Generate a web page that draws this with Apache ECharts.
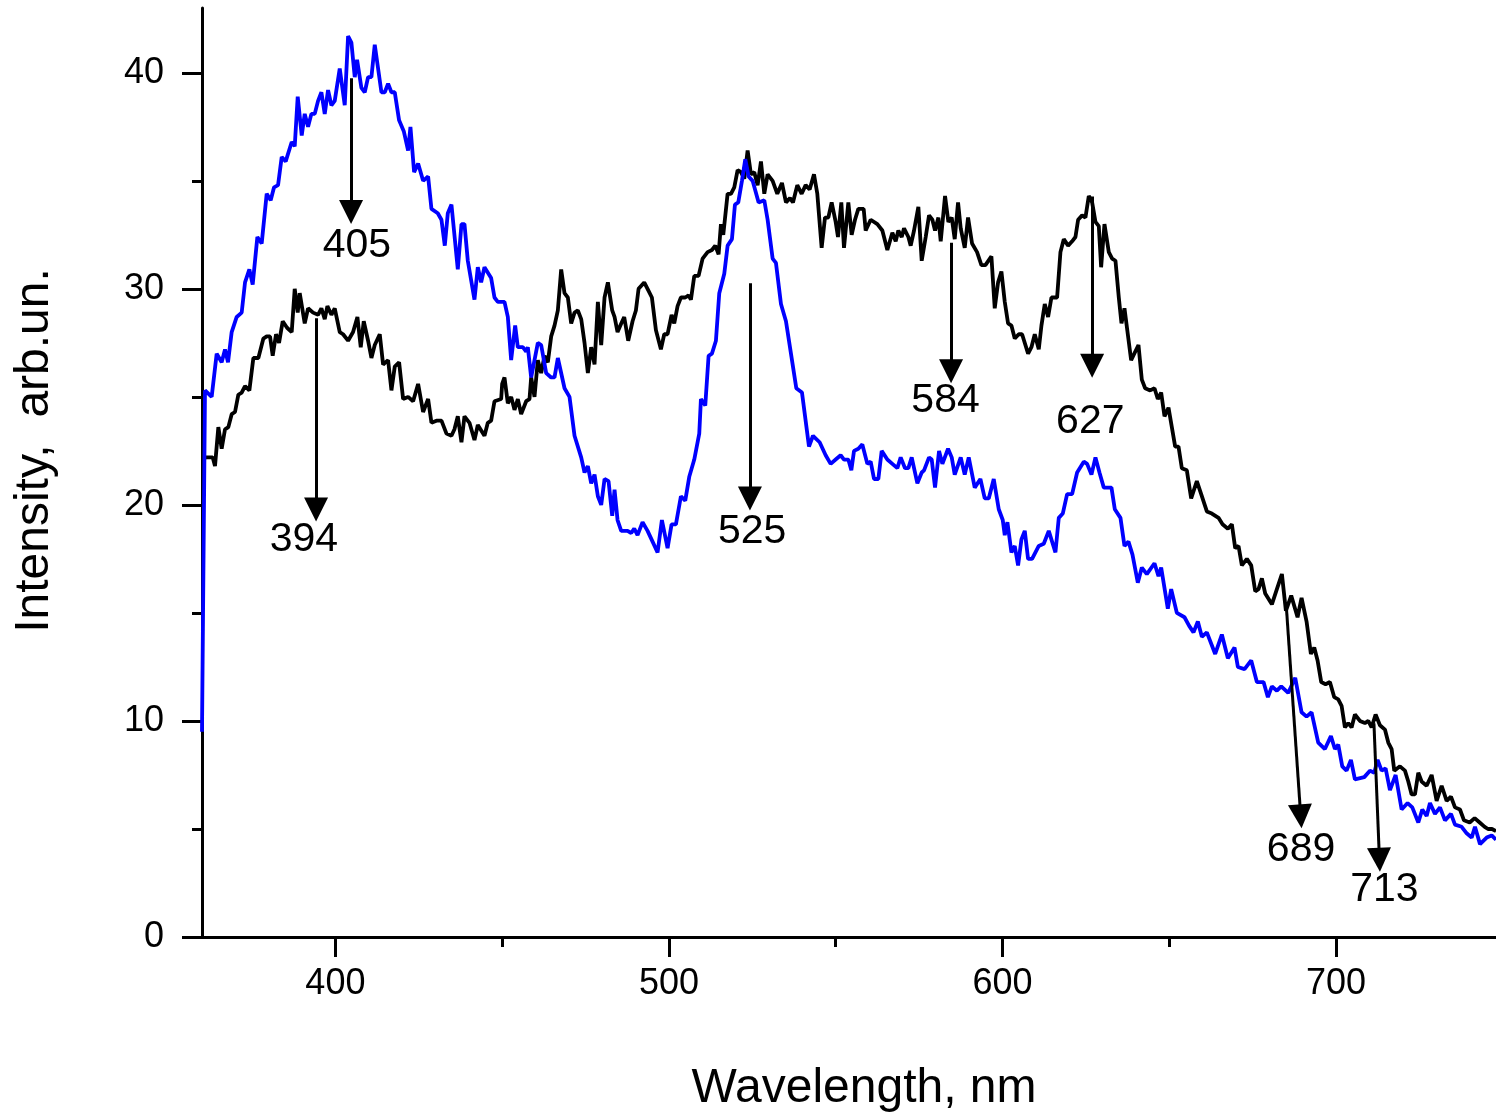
<!DOCTYPE html>
<html>
<head>
<meta charset="utf-8">
<script src="https://cdn.jsdelivr.net/npm/echarts@6/dist/echarts.min.js"></script>
<style>html,body{margin:0;padding:0;background:#fff;}#chart{width:1496px;height:1117px;}</style>
</head>
<body>
<div id="chart"></div>
<script>
// ---- data ----
const blueWl = [360.0,360.9,362.9,364.4,365.9,366.9,367.8,368.9,370.4,371.9,372.9,374.2,375.2,376.6,377.9,379.4,380.6,381.6,382.8,383.9,385.1,386.9,387.8,388.7,389.9,390.8,391.8,392.8,393.8,394.8,395.8,396.8,397.8,398.8,399.8,401.3,402.8,403.8,404.8,405.8,406.5,407.8,408.8,409.8,410.8,411.8,413.8,414.8,415.8,416.8,417.8,419.1,420.5,421.8,422.5,423.6,424.8,426.3,427.8,428.8,430.7,431.8,432.8,433.7,434.8,436.7,437.8,438.7,439.7,441.7,442.7,443.7,444.7,446.7,447.7,448.7,450.7,451.7,452.7,453.9,454.7,456.2,457.2,457.7,458.7,460.7,461.7,463.2,464.7,465.7,466.7,468.7,470.2,471.7,473.7,474.7,475.7,476.7,477.7,478.7,479.7,480.7,481.9,483.0,483.7,484.6,485.7,487.6,488.7,489.6,490.6,492.1,493.6,495.1,496.6,497.9,499.6,500.8,502.1,503.6,504.9,506.1,507.6,509.1,509.6,510.9,511.9,512.9,514.1,515.1,516.6,517.6,518.9,519.8,520.8,521.9,522.9,523.9,525.1,526.9,528.6,529.6,531.1,532.1,533.6,535.1,536.9,538.2,539.9,542.0,543.2,545.2,547.0,548.5,550.0,551.5,552.5,553.8,554.7,555.5,556.8,558.0,559.5,560.5,561.5,562.8,563.8,565.5,567.0,568.5,569.5,570.8,571.8,572.8,574.5,575.8,576.5,578.0,578.8,579.8,581.0,582.0,583.7,584.8,585.7,587.5,588.7,589.9,591.7,593.4,594.7,595.9,597.4,598.9,600.1,600.7,601.5,602.7,603.7,604.7,605.7,606.7,607.7,608.9,610.9,612.4,613.9,615.9,616.9,618.1,619.4,620.9,622.4,624.4,625.4,626.7,627.9,629.1,630.4,632.7,633.7,635.4,636.6,637.8,639.0,640.6,641.8,643.3,645.6,646.8,647.6,649.6,650.6,652.3,654.6,656.0,657.3,658.6,659.8,661.3,663.8,665.8,667.6,669.6,670.6,672.6,674.6,676.3,678.3,679.6,680.8,682.3,683.6,685.7,687.8,689.7,691.2,692.7,694.7,696.7,698.5,699.7,700.7,701.9,703.2,704.5,705.7,708.5,710.2,711.5,712.5,713.7,714.9,716.2,717.9,719.7,721.5,722.9,724.7,725.9,727.2,728.2,729.7,731.2,732.7,734.5,735.7,737.7,739.2,740.7,741.7,743.2,745.2,746.7,748.0];
const blueInt = [9.5,25.3,25.0,27.0,26.6,27.2,26.6,28.0,28.7,28.9,30.3,30.9,30.2,32.4,32.1,34.4,34.1,34.7,34.8,36.1,35.9,36.8,36.6,38.9,37.1,38.1,37.5,38.1,38.1,38.7,39.1,38.1,39.2,38.5,38.7,40.2,38.5,41.7,41.4,39.8,40.6,39.3,39.1,39.8,39.8,41.3,39.1,39.1,39.5,39.1,39.1,37.8,37.3,36.4,37.5,35.4,35.8,35.0,35.2,33.7,33.5,33.2,32.0,33.5,33.9,30.9,33.0,33.0,31.3,29.5,31.0,30.3,31.0,30.5,29.6,29.4,29.4,28.7,26.7,28.3,27.3,27.3,27.1,27.3,25.9,27.5,27.4,26.1,25.9,25.9,26.8,25.4,25.0,23.2,22.2,21.5,21.8,21.0,21.4,20.4,20.0,21.2,21.1,19.5,20.7,19.3,18.8,18.8,18.7,18.9,18.6,19.2,18.8,18.3,17.8,19.3,18.0,19.1,19.1,20.4,20.2,21.3,22.1,23.3,24.9,24.6,26.9,27.0,27.6,29.8,30.7,32.0,32.3,33.9,34.0,35.0,36.0,35.2,35.0,34.0,34.1,33.2,31.4,31.2,29.3,28.5,26.7,25.4,25.2,22.7,23.2,22.9,22.3,21.9,22.1,22.3,22.1,22.1,21.6,22.5,22.6,22.8,21.9,22.0,21.2,21.2,22.5,22.1,21.9,21.7,22.2,21.7,21.7,22.2,21.0,21.5,21.6,22.2,22.1,20.8,22.5,21.9,22.6,22.2,21.4,22.2,21.4,22.2,20.8,21.2,20.3,20.3,21.2,19.8,19.3,18.6,19.2,17.8,18.1,17.2,18.4,18.8,17.5,17.5,18.1,18.2,18.8,17.8,19.4,19.6,20.5,20.5,21.5,22.0,21.9,21.4,22.2,21.5,20.8,20.8,19.8,19.4,18.1,18.3,17.7,16.4,17.1,16.8,17.3,16.7,17.1,15.2,16.1,15.0,14.8,14.4,14.1,14.6,13.9,14.1,13.1,14.0,12.9,13.4,12.5,12.4,12.8,11.8,11.8,11.1,11.6,11.4,11.6,11.3,12.0,10.4,10.2,10.4,9.0,8.7,9.3,8.7,8.9,7.9,7.7,8.2,7.3,7.4,7.7,7.6,8.2,7.7,7.8,6.8,7.5,5.9,6.2,6.0,5.3,5.9,5.6,6.2,5.7,6.0,5.4,5.7,5.2,5.1,4.8,4.6,5.1,4.3,4.6,4.7,4.5];

const blackWl = [360.3,360.9,362.2,363.2,363.9,364.9,365.9,366.9,367.9,368.9,369.9,370.9,371.9,372.9,374.2,375.4,376.9,378.4,379.4,380.4,381.2,382.2,383.1,384.2,385.5,386.9,387.8,388.7,389.3,390.8,391.8,393.3,394.8,395.8,396.8,397.6,398.8,399.8,401.3,402.3,403.8,405.3,406.6,407.6,408.5,409.8,410.8,411.8,413.3,414.3,415.8,416.8,417.8,419.1,420.3,421.8,423.3,424.8,426.3,427.8,428.8,430.3,431.8,433.3,434.8,435.7,436.7,437.8,438.7,440.2,441.7,442.7,444.7,445.7,446.7,447.7,449.7,450.0,450.7,451.7,452.7,453.7,454.7,455.7,457.2,458.2,458.7,459.7,460.7,461.7,462.7,463.7,464.7,465.7,466.7,467.7,468.7,469.7,470.7,471.7,472.7,473.7,474.7,475.7,476.7,477.7,478.7,479.7,480.7,481.7,483.0,483.7,484.6,485.7,486.6,487.8,489.1,490.1,490.9,492.6,493.6,494.9,496.1,497.6,498.6,499.6,500.8,501.6,502.6,503.6,504.9,505.9,506.6,507.6,508.9,510.1,511.6,512.9,513.9,514.9,515.6,516.3,517.6,518.6,519.6,520.6,521.6,522.6,523.6,524.6,525.6,526.6,527.6,528.6,529.6,531.1,532.5,533.9,535.1,536.3,537.2,538.5,539.8,541.0,542.2,543.5,544.5,545.8,546.8,547.8,548.8,550.0,550.7,551.7,552.5,553.8,554.8,555.8,556.8,558.4,559.0,560.5,562.5,564.0,565.5,567.0,568.0,568.8,569.8,570.5,571.8,572.5,573.5,574.8,575.8,577.0,578.0,579.0,579.8,580.8,581.5,582.8,583.8,584.8,585.7,586.7,587.5,588.7,589.7,590.9,592.4,593.7,594.9,596.7,597.7,598.7,599.7,600.7,601.7,602.7,603.7,604.9,605.9,607.7,608.7,609.7,610.9,611.7,612.7,613.7,614.7,616.4,617.4,618.4,619.7,620.9,621.9,622.7,623.9,624.9,625.9,626.9,627.9,628.9,629.6,630.6,631.9,632.9,633.9,634.9,635.7,636.6,637.6,638.6,640.8,641.8,642.8,644.3,645.6,646.6,647.6,648.6,649.8,650.8,651.8,652.8,653.8,655.3,656.6,658.3,659.6,661.3,662.8,664.8,666.0,667.6,668.8,669.8,670.8,671.8,673.3,674.6,675.8,676.8,677.8,678.8,680.8,682.3,683.8,685.0,686.6,688.5,689.7,691.2,692.5,693.5,694.5,695.6,696.9,698.2,699.5,700.7,701.7,702.7,703.7,704.7,705.7,707.2,708.7,709.7,710.7,711.9,713.2,714.7,715.7,716.7,717.5,719.2,720.7,721.7,722.7,723.7,724.7,725.7,727.2,728.7,730.2,731.7,733.2,734.5,735.7,737.2,738.4,740.1,741.6,743.1,744.6,745.6,746.8,748.0];
const blackInt = [22.0,22.2,22.2,22.2,21.8,23.6,22.6,23.5,23.6,24.2,24.3,25.1,25.2,25.5,25.3,26.8,26.8,27.7,27.8,27.8,26.9,27.9,27.5,28.5,28.2,28.0,30.0,28.9,29.8,28.4,29.1,28.9,28.8,29.1,28.6,29.2,28.8,29.1,28.0,27.9,27.6,28.0,28.7,27.3,28.5,27.6,26.8,27.4,27.9,26.5,26.7,25.3,26.4,26.6,24.9,25.0,24.8,25.6,24.3,24.9,23.8,23.9,23.9,23.3,23.2,23.5,24.1,22.9,24.1,23.8,23.0,23.7,23.2,23.8,23.9,24.8,24.9,25.6,25.9,24.7,25.0,24.4,24.9,24.2,24.8,24.9,25.9,25.0,26.7,26.1,26.9,26.6,27.8,28.3,29.0,30.9,29.8,29.6,28.4,28.9,29.0,28.6,27.5,26.1,27.3,26.5,29.4,27.4,29.6,30.3,29.0,28.7,28.0,28.4,28.7,27.6,28.5,29.0,30.0,30.3,30.0,29.6,28.1,27.2,27.9,27.9,28.8,28.4,29.2,29.6,29.6,29.7,29.5,30.6,30.6,31.4,31.7,31.8,32.0,31.6,33.0,32.5,34.4,34.4,34.7,35.5,35.4,35.1,36.4,35.3,35.4,34.8,35.9,34.4,35.3,35.0,34.4,34.9,34.0,34.2,34.0,34.8,34.4,34.8,34.6,35.3,34.4,31.9,33.3,33.3,34.0,33.1,32.4,34.0,31.9,34.0,32.5,33.2,33.7,33.7,32.7,33.2,33.0,32.7,31.8,32.6,32.2,32.7,32.4,32.8,32.4,32.0,32.7,33.8,31.3,32.4,33.4,33.2,32.7,33.3,32.2,34.3,33.1,33.3,32.3,34.0,32.8,31.9,33.3,32.1,31.7,31.1,31.1,31.5,29.1,30.3,30.8,29.4,28.4,28.3,27.7,27.9,27.9,27.0,27.3,27.9,27.2,28.3,29.3,28.7,29.6,29.6,31.7,32.3,32.0,32.2,32.4,33.2,33.4,33.3,34.3,34.0,33.1,32.9,31.0,33.0,31.7,31.4,31.3,29.6,28.4,29.1,27.9,26.7,27.4,25.8,25.4,25.3,25.4,24.9,25.2,24.1,24.5,23.6,22.7,22.7,21.7,21.6,20.3,21.1,20.5,19.7,19.6,19.4,19.1,18.9,19.1,18.0,18.1,17.2,17.5,17.2,16.0,16.1,16.6,15.9,15.4,16.1,16.8,15.1,15.8,14.8,15.7,14.6,13.1,13.4,12.8,11.8,11.7,11.8,11.1,11.0,10.7,9.7,9.9,9.7,10.3,10.0,9.9,10.0,9.7,10.3,9.8,9.6,9.0,8.7,7.7,7.9,7.7,7.2,6.6,6.6,7.6,7.2,7.0,7.5,6.3,7.0,6.3,6.5,6.0,5.9,5.4,5.3,5.5,5.3,5.1,5.0,5.0,4.9];

// peak annotations: label, arrow start (x0,y0), arrow tip (x1,y1), label centre (lx,ly)
const peakLabels = ['405','394','525','584','627','689','713'];
const arrowX0 = [404.7, 394.2, 524.3, 584.6, 626.9, 685.2, 711.4];
const arrowY0 = [39.75, 28.64, 30.26, 32.14, 34.27, 15.14, 9.89];
const arrowX1 = [404.7, 394.2, 524.3, 584.6, 626.9, 689.7, 713.2];
const arrowY1 = [33.0, 19.23, 19.74, 25.63, 25.89, 5.03, 3.02];
const labelX = [406.6, 390.7, 525.1, 583.1, 626.5, 689.7, 714.7];
const labelY = [31.96, 18.38, 18.76, 24.78, 23.81, 4.03, 2.18];

const xMajorTicks = [400, 500, 600, 700];
const xMinorTicks = [450, 550, 650];
const yTicks = [0, 10, 20, 30, 40];

// ---- chart ----
const FONT = "'Liberation Sans', Arial, Helvetica, sans-serif";
const zip = (a, b) => a.map((v, i) => [v, b[i]]);
const chart = echarts.init(document.getElementById('chart'), null, {renderer: 'canvas'});

const option = {
  animation: false,
  backgroundColor: '#ffffff',
  grid: {left: 202, right: 0, top: 8, bottom: 180, containLabel: false, outerBoundsMode: 'none'},
  xAxis: [
    {
      type: 'value', min: 360, max: 748, position: 'bottom',
      axisLine: {show: true, onZero: false, lineStyle: {color: '#000', width: 3}},
      axisTick: {show: true, inside: false, length: 20, customValues: xMajorTicks, lineStyle: {color: '#000', width: 3}},
      axisLabel: {show: true, customValues: xMajorTicks, fontSize: 36, fontFamily: FONT, color: '#000', margin: 29},
      splitLine: {show: false},
      name: 'Wavelength, nm', nameLocation: 'middle', nameGap: 128,
      nameTextStyle: {fontSize: 48, fontFamily: FONT, color: '#000', padding: [0, 0, 0, 30]}
    },
    {
      type: 'value', min: 360, max: 748, position: 'bottom',
      axisLine: {show: false, onZero: false},
      axisTick: {show: true, inside: false, length: 10, customValues: xMinorTicks, lineStyle: {color: '#000', width: 3}},
      axisLabel: {show: false},
      splitLine: {show: false}
    }
  ],
  yAxis: {
    type: 'value', min: 0, max: 43, interval: 10,
    axisLine: {show: true, onZero: false, lineStyle: {color: '#000', width: 3}},
    axisTick: {show: true, inside: false, length: 20, customValues: yTicks, lineStyle: {color: '#000', width: 3}},
    minorTick: {show: true, splitNumber: 2, length: 10, lineStyle: {color: '#000', width: 3}},
    axisLabel: {show: true, customValues: yTicks, fontSize: 36, fontFamily: FONT, color: '#000', margin: 38},
    splitLine: {show: false},
    minorSplitLine: {show: false},
    name: 'Intensity,  arb.un.', nameLocation: 'middle', nameGap: 143, nameRotate: 90,
    nameTextStyle: {fontSize: 48, fontFamily: FONT, color: '#000', padding: [0, 0, 0, 44]}
  },
  series: [
    {
      name: 'black', type: 'line', xAxisIndex: 0, yAxisIndex: 0,
      data: zip(blackWl, blackInt), showSymbol: false, symbol: 'none',
      lineStyle: {color: '#000000', width: 3.8}, itemStyle: {color: '#000'}, z: 2
    },
    {
      name: 'blue', type: 'line', xAxisIndex: 0, yAxisIndex: 0,
      data: zip(blueWl, blueInt), showSymbol: false, symbol: 'none',
      lineStyle: {color: '#0000ff', width: 3.8}, itemStyle: {color: '#0000ff'}, z: 3
    },
    {
      name: 'labels', type: 'scatter', xAxisIndex: 0, yAxisIndex: 0,
      data: peakLabels.map((t, i) => ({value: [labelX[i], labelY[i]], name: t})),
      symbol: 'circle', symbolSize: 1, itemStyle: {color: '#ffffff', opacity: 0},
      label: {show: true, position: [0, 0], align: 'center', verticalAlign: 'middle',
              formatter: p => p.name, fontSize: 41, fontFamily: FONT, color: '#000000',
              opacity: 1, textBorderWidth: 0},
      silent: true, z: 5
    }
  ]
};
chart.setOption(option);

// arrows: shaft from start to arrow-head centre (head tip lands on the read tip)
const HEAD_LEN = 24, HEAD_W = 15;
const arrowData = peakLabels.map((t, i) => {
  const p0 = chart.convertToPixel({seriesIndex: 0}, [arrowX0[i], arrowY0[i]]);
  const p1 = chart.convertToPixel({seriesIndex: 0}, [arrowX1[i], arrowY1[i]]);
  const dx = p1[0] - p0[0], dy = p1[1] - p0[1];
  const L = Math.hypot(dx, dy);
  const endPx = [p1[0] - dx / L * HEAD_LEN / 2, p1[1] - dy / L * HEAD_LEN / 2];
  const end = chart.convertFromPixel({seriesIndex: 0}, endPx);
  return {coords: [[arrowX0[i], arrowY0[i]], end]};
});
chart.setOption({
  series: [
    {}, {}, {},
    {
      name: 'arrows', type: 'lines', coordinateSystem: 'cartesian2d', xAxisIndex: 0, yAxisIndex: 0,
      polyline: false, silent: true, z: 6,
      symbol: ['none', 'triangle'], symbolSize: [HEAD_W, HEAD_LEN],
      lineStyle: {color: '#000', width: 3, opacity: 1, curveness: 0},
      data: arrowData
    }
  ]
});
</script>
</body>
</html>
